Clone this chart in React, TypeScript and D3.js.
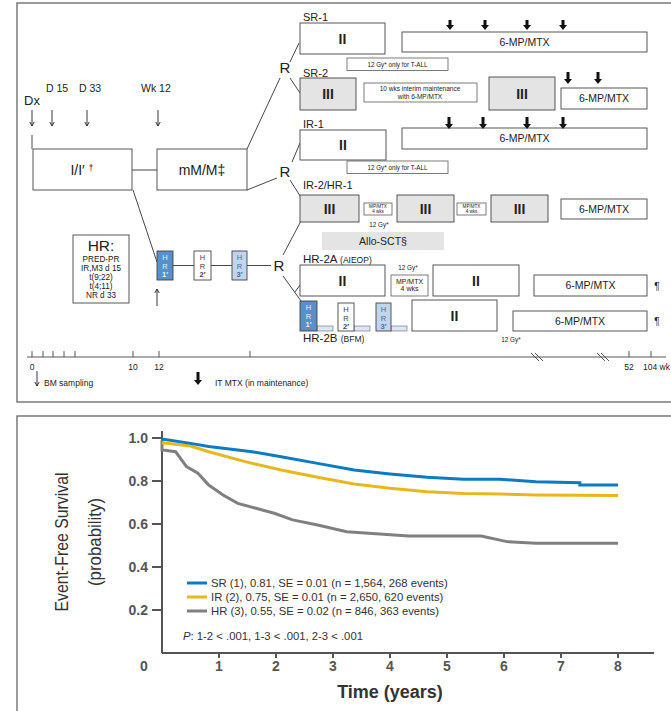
import * as d3 from 'd3'

const FONT = "'Liberation Sans', Arial, Helvetica, sans-serif"
const NARROW = "'Liberation Sans Narrow', 'Arial Narrow', 'Liberation Sans', sans-serif"

// Event-free survival curves (years -> probability)
const srYears = [0, 0.5, 0.82, 1.58, 2.09, 2.73, 3.37, 4.0, 4.65, 5.29, 5.93, 6.56, 7.33, 7.33, 8.0]
const srEfs = [0.995, 0.975, 0.96, 0.936, 0.913, 0.882, 0.851, 0.833, 0.817, 0.808, 0.808, 0.797, 0.792, 0.781, 0.781]

const irYears = [0, 0.5, 0.82, 1.46, 2.09, 2.73, 3.37, 4.0, 4.65, 5.29, 5.93, 6.56, 8.0]
const irEfs = [0.978, 0.963, 0.936, 0.89, 0.851, 0.817, 0.786, 0.766, 0.75, 0.742, 0.739, 0.735, 0.732]

const hrYears = [0, 0, 0.24, 0.43, 0.63, 0.82, 1.07, 1.33, 1.65, 1.97, 2.29, 2.73, 3.24, 3.69, 4.33, 5.6, 6.05, 6.56, 8.0]
const hrEfs = [0.99, 0.944, 0.936, 0.867, 0.836, 0.781, 0.735, 0.696, 0.673, 0.65, 0.619, 0.595, 0.564, 0.556, 0.544, 0.544, 0.518, 0.51, 0.51]

const legendLabels = [
  'SR (1), 0.81, SE = 0.01 (n = 1,564, 268 events)',
  'IR (2), 0.75, SE = 0.01 (n = 2,650, 620 events)',
  'HR (3), 0.55, SE = 0.02 (n = 846, 363 events)',
]
const seriesColors = ['#0b7cc3', '#e8b71e', '#808080']
const yTicks = [0.2, 0.4, 0.6, 0.8, 1.0]
const xTicks = [1, 2, 3, 4, 5, 6, 7, 8]

// protocol timeline (weeks) tick labels
const weekTicks = ['0', '10', '12', '52', '104 wk']

const GRAY = '#e4e4e4'

function Box({ x, y, w, h, fill = '#fff', stroke = '#444', sw = 0.9 }: any) {
  return <rect x={x} y={y} width={w} height={h} fill={fill} stroke={stroke} strokeWidth={sw} />
}

function T({ x, y, size = 10, anchor = 'middle', weight = 'normal', fill = '#222', style, children }: any) {
  return (
    <text x={x} y={y} fontSize={size} textAnchor={anchor} fontWeight={weight} fill={fill} style={style}>
      {children}
    </text>
  )
}

function ThinArrow({ x, y1, y2 }: any) {
  const d = y2 > y1 ? 1 : -1
  return (
    <g stroke="#222" strokeWidth={0.9} fill="none">
      <line x1={x} y1={y1} x2={x} y2={y2} />
      <path d={`M${x - 2.2},${y2 - 4 * d} L${x},${y2} L${x + 2.2},${y2 - 4 * d}`} />
    </g>
  )
}

function ThickArrow({ x, y1, y2 }: any) {
  const hy = y2 - 5
  return (
    <path
      d={`M${x - 1.5},${y1} L${x + 1.5},${y1} L${x + 1.5},${hy} L${x + 4},${hy} L${x},${y2} L${x - 4},${hy} L${x - 1.5},${hy} Z`}
      fill="#111"
    />
  )
}

function HRBox({ x, y, w, h, fill, color, n }: any) {
  return (
    <g>
      <Box x={x} y={y} w={w} h={h} fill={fill} />
      <T x={x + w / 2} y={y + 9} size={7.5} fill={color}>H</T>
      <T x={x + w / 2} y={y + 17.5} size={7.5} fill={color}>R</T>
      <T x={x + w / 2} y={y + 26} size={7.5} fill={color} weight="bold">{n}</T>
    </g>
  )
}

function Schema() {
  const mp = (x: number, y: number, w: number, h: number, size = 10.5) => (
    <g>
      <Box x={x} y={y} w={w} h={h} />
      <T x={x + w / 2} y={y + h / 2 + size * 0.36} size={size}>6-MP/MTX</T>
    </g>
  )
  const roman = (x: number, y: number, w: number, h: number, label: string, fill = '#fff') => (
    <g>
      <Box x={x} y={y} w={w} h={h} fill={fill} />
      <T x={x + w / 2} y={y + h / 2 + 5} size={14} weight="bold">{label}</T>
    </g>
  )
  const gy = (x: number, y: number) => (
    <g>
      <Box x={x} y={y} w={101} h={12.5} sw={0.7} />
      <T x={x + 50.5} y={y + 8.6} size={6.3}>12 Gy* only for T-ALL</T>
    </g>
  )
  const tiny = (x: number, y: number, w: number, h: number, size: number) => (
    <g>
      <Box x={x} y={y} w={w} h={h} sw={0.7} />
      <T x={x + w / 2} y={y + h * 0.42} size={size}>MP/MTX</T>
      <T x={x + w / 2} y={y + h * 0.42 + size * 1.05} size={size}>4 wks</T>
    </g>
  )
  const timeX = [32, 133, 159, 629, 643]
  return (
    <g>
      <rect x={17} y={3} width={680} height={399} fill="#fff" stroke="#666" strokeWidth={1.3} />

      {/* induction side */}
      <T x={24} y={105} size={13} anchor="start">Dx</T>
      <T x={46} y={92} size={10.5} anchor="start">D 15</T>
      <T x={79} y={92} size={10.5} anchor="start">D 33</T>
      <T x={141} y={92} size={10.5} anchor="start">Wk 12</T>
      <ThinArrow x={32} y1={110} y2={126} />
      <ThinArrow x={52} y1={110} y2={126} />
      <ThinArrow x={87} y1={110} y2={126} />
      <ThinArrow x={158} y1={110} y2={126} />
      <g stroke="#333" strokeWidth={0.9}>
        <line x1={32} y1={135} x2={32} y2={149} />
        <line x1={132} y1={170} x2={157} y2={170} />
        <line x1={247} y1={149} x2={280} y2={78} />
        <line x1={290} y1={62} x2={299} y2={43} />
        <line x1={290} y1={78} x2={300} y2={93} />
        <line x1={247} y1={190} x2={277} y2={178} />
        <line x1={292} y1={162} x2={300} y2={143} />
        <line x1={290} y1={180} x2={302} y2={199} />
        <line x1={133} y1={190} x2={157} y2={262} />
        <line x1={173} y1={265.5} x2={194} y2={265.5} />
        <line x1={211} y1={265.5} x2={232} y2={265.5} />
        <line x1={247} y1={265.5} x2={271} y2={265.5} />
        <line x1={283} y1={255} x2={302} y2={219} />
        <line x1={283} y1={276} x2={301} y2={301} />
        <line x1={295} y1={292} x2={300} y2={285} />
      </g>
      <Box x={33} y={149} w={99} h={41} />
      <text x={82} y={175} fontSize={14} textAnchor="middle" fill="#222">
        I/I′ <tspan fontSize={9} dy={-4}>†</tspan>
      </text>
      <Box x={157} y={149} w={90} h={41} />
      <T x={202} y={175} size={14}>mM/M‡</T>

      <T x={285} y={73} size={15}>R</T>
      <T x={285} y={177} size={15}>R</T>
      <T x={279} y={271} size={15}>R</T>

      {/* HR criteria */}
      <Box x={73} y={235} w={56} h={68} />
      <T x={101} y={251} size={15.5}>HR:</T>
      <T x={101} y={262} size={8.2}>PRED-PR</T>
      <T x={101} y={271} size={8.2}>IR,M3 d 15</T>
      <T x={101} y={280} size={8.2}>t(9;22)</T>
      <T x={101} y={289} size={8.2}>t(4;11)</T>
      <T x={101} y={298} size={8.2}>NR d 33</T>

      <HRBox x={157} y={251} w={16} h={29} fill="#5b8fcb" color="#e9f0fa" n="1′" />
      <HRBox x={194} y={251} w={17} h={29} fill="#fff" color="#444" n="2′" />
      <HRBox x={232} y={251} w={15} h={29} fill="#c3d4ee" color="#4a6ea6" n="3′" />
      <ThinArrow x={157} y1={306} y2={289} />

      {/* SR-1 */}
      <T x={303} y={20.5} size={11} anchor="start">SR-1</T>
      {roman(300, 23, 85, 31, 'II')}
      {mp(402, 32, 245, 20)}
      {[450, 485, 527, 563].map(x => <ThickArrow key={x} x={x} y1={20} y2={30} />)}
      {gy(347, 58)}

      {/* SR-2 */}
      <T x={303} y={76.5} size={11} anchor="start">SR-2</T>
      {roman(300, 78, 56, 32, 'III', GRAY)}
      <Box x={364} y={83} w={113} h={19} sw={0.7} />
      <T x={420} y={91} size={6.5}>10 wks interim maintenance</T>
      <T x={420} y={98.5} size={6.5}>with 6-MP/MTX</T>
      {roman(489, 77, 66, 33, 'III', GRAY)}
      {[568, 598].map(x => <ThickArrow key={x} x={x} y1={72} y2={84} />)}
      {mp(561, 88, 86, 21)}

      {/* IR-1 */}
      <T x={303} y={127.5} size={11} anchor="start">IR-1</T>
      {roman(300, 130, 86, 30, 'II')}
      {mp(402, 128, 245, 21)}
      {[449, 483, 527, 563].map(x => <ThickArrow key={x} x={x} y1={117} y2={129} />)}
      {gy(347, 161)}

      {/* IR-2 / HR-1 */}
      <T x={303} y={189} size={11} anchor="start">IR-2/HR-1</T>
      {roman(300, 195, 59, 27, 'III', GRAY)}
      {tiny(364, 203, 28, 12, 4.6)}
      <T x={379} y={227} size={6.3}>12 Gy*</T>
      {roman(397, 195, 57, 27, 'III', GRAY)}
      {tiny(457, 203, 29, 12, 4.6)}
      {roman(491, 195, 57, 27, 'III', GRAY)}
      {mp(561, 199, 86, 20)}

      <rect x={322} y={232} width={122} height={18} fill={GRAY} />
      <T x={383} y={245} size={10.5}>Allo-SCT§</T>

      {/* HR-2A */}
      <text x={303} y={263} fontSize={11.5} fill="#222">
        HR-2A <tspan fontSize={8.5}>(AIEOP)</tspan>
      </text>
      {roman(300, 265, 85, 31, 'II')}
      <T x={408} y={270} size={6.3}>12 Gy*</T>
      {tiny(391, 275, 37, 21, 7)}
      {roman(433, 265, 86, 31, 'II')}
      {mp(534, 275, 113, 21)}
      <T x={657} y={290} size={10}>¶</T>

      {/* HR-2B */}
      <rect x={317} y={326} width={16} height={5} fill="#dce6f4" stroke="#667" strokeWidth={0.6} />
      <rect x={354} y={326} width={16} height={5} fill="#dce6f4" stroke="#667" strokeWidth={0.6} />
      <rect x={391} y={326} width={16} height={5} fill="#dce6f4" stroke="#667" strokeWidth={0.6} />
      <HRBox x={300} y={301} w={17} h={30} fill="#5b8fcb" color="#e9f0fa" n="1′" />
      <HRBox x={338} y={303} w={16} h={28} fill="#fff" color="#444" n="2′" />
      <HRBox x={376} y={303} w={15} h={28} fill="#c3d4ee" color="#4a6ea6" n="3′" />
      {roman(412, 300, 85, 31, 'II')}
      {mp(513, 311, 134, 20)}
      <T x={657} y={325} size={10}>¶</T>
      <text x={303} y={342} fontSize={11.5} fill="#222">
        HR-2B <tspan fontSize={8.5}>(BFM)</tspan>
      </text>
      <T x={511} y={342} size={6.3}>12 Gy*</T>

      {/* week axis */}
      <g stroke="#444" strokeWidth={0.9}>
        <line x1={27} y1={357} x2={666} y2={357} />
        {[32, 43, 53, 64, 75, 133, 159, 250, 629, 651].map(x => (
          <line key={x} x1={x} y1={351} x2={x} y2={357} />
        ))}
        {[537, 603].map(x => (
          <g key={x}>
            <line x1={x - 6} y1={353} x2={x + 2} y2={361} />
            <line x1={x - 2} y1={353} x2={x + 6} y2={361} />
          </g>
        ))}
      </g>
      {weekTicks.map((t, i) => (
        <T key={t} x={timeX[i]} y={370} size={8.5} anchor={i === 4 ? 'start' : 'middle'}>{t}</T>
      ))}
      <ThinArrow x={37} y1={371} y2={386} />
      <T x={44} y={386} size={8.5} anchor="start">BM sampling</T>
      <ThickArrow x={198} y1={372} y2={385} />
      <T x={215} y={386} size={8.5} anchor="start">IT MTX (in maintenance)</T>
    </g>
  )
}

function Survival() {
  const x = d3.scaleLinear().domain([0, 8]).range([162, 618])
  const y = d3.scaleLinear().domain([0, 1]).range([653, 438])
  const line = d3.line<[number, number]>().x(d => x(d[0])).y(d => y(d[1]))
  const series = [
    d3.zip(srYears, srEfs) as [number, number][],
    d3.zip(irYears, irEfs) as [number, number][],
    d3.zip(hrYears, hrEfs) as [number, number][],
  ]
  const axisColor = '#555'
  return (
    <g>
      <rect x={17} y={416} width={680} height={300} fill="#fff" stroke="#666" strokeWidth={1.3} />

      {/* axes */}
      <g stroke={axisColor} strokeWidth={2}>
        <line x1={x(0)} y1={y(1) - 7} x2={x(0)} y2={y(0)} />
        <line x1={x(0)} y1={y(0)} x2={654} y2={y(0)} />
        {yTicks.map(v => <line key={v} x1={x(0) - 10} y1={y(v)} x2={x(0)} y2={y(v)} />)}
        {xTicks.map(v => <line key={v} x1={x(v)} y1={y(0)} x2={x(v)} y2={y(0) + 5} />)}
      </g>
      {yTicks.map(v => (
        <T key={v} x={148} y={y(v) + 5} size={14} anchor="end" weight="bold" fill={axisColor}>
          {v.toFixed(1)}
        </T>
      ))}
      <T x={144} y={671} size={14} weight="bold" fill={axisColor}>0</T>
      {xTicks.map(v => (
        <T key={v} x={x(v)} y={671} size={14} weight="bold" fill={axisColor}>{v}</T>
      ))}
      <T x={(x(0) + x(8)) / 2} y={698} size={18} weight="bold" fill="#333">Time (years)</T>
      <g transform="translate(68,542) rotate(-90)">
        <text textAnchor="middle" fontSize={18} fill="#333" textLength={139} lengthAdjust="spacingAndGlyphs"
          style={{ fontFamily: NARROW }}>
          Event-Free Survival
        </text>
      </g>
      <g transform="translate(101,542) rotate(-90)">
        <text textAnchor="middle" fontSize={18} fill="#333" textLength={88} lengthAdjust="spacingAndGlyphs"
          style={{ fontFamily: NARROW }}>
          (probability)
        </text>
      </g>

      {/* curves */}
      {series.map((s, i) => (
        <path key={i} d={line(s) ?? ''} fill="none" stroke={seriesColors[i]} strokeWidth={3} />
      )).reverse()}

      {/* legend */}
      {legendLabels.map((label, i) => (
        <g key={label}>
          <line x1={187} x2={207} y1={583 + i * 14} y2={583 + i * 14} stroke={seriesColors[i]} strokeWidth={3} />
          <T x={211} y={587 + i * 14} size={11.3} anchor="start" fill="#333">{label}</T>
        </g>
      ))}
      <text x={183} y={640} fontSize={11.3} fill="#333">
        <tspan fontStyle="italic">P</tspan>: 1-2 &lt; .001, 1-3 &lt; .001, 2-3 &lt; .001
      </text>
    </g>
  )
}

export default function App() {
  return (
    <svg
      width={671}
      height={711}
      style={{ position: 'absolute', left: 0, top: 0, background: '#fff', fontFamily: FONT }}
    >
      <Schema />
      <Survival />
    </svg>
  )
}
